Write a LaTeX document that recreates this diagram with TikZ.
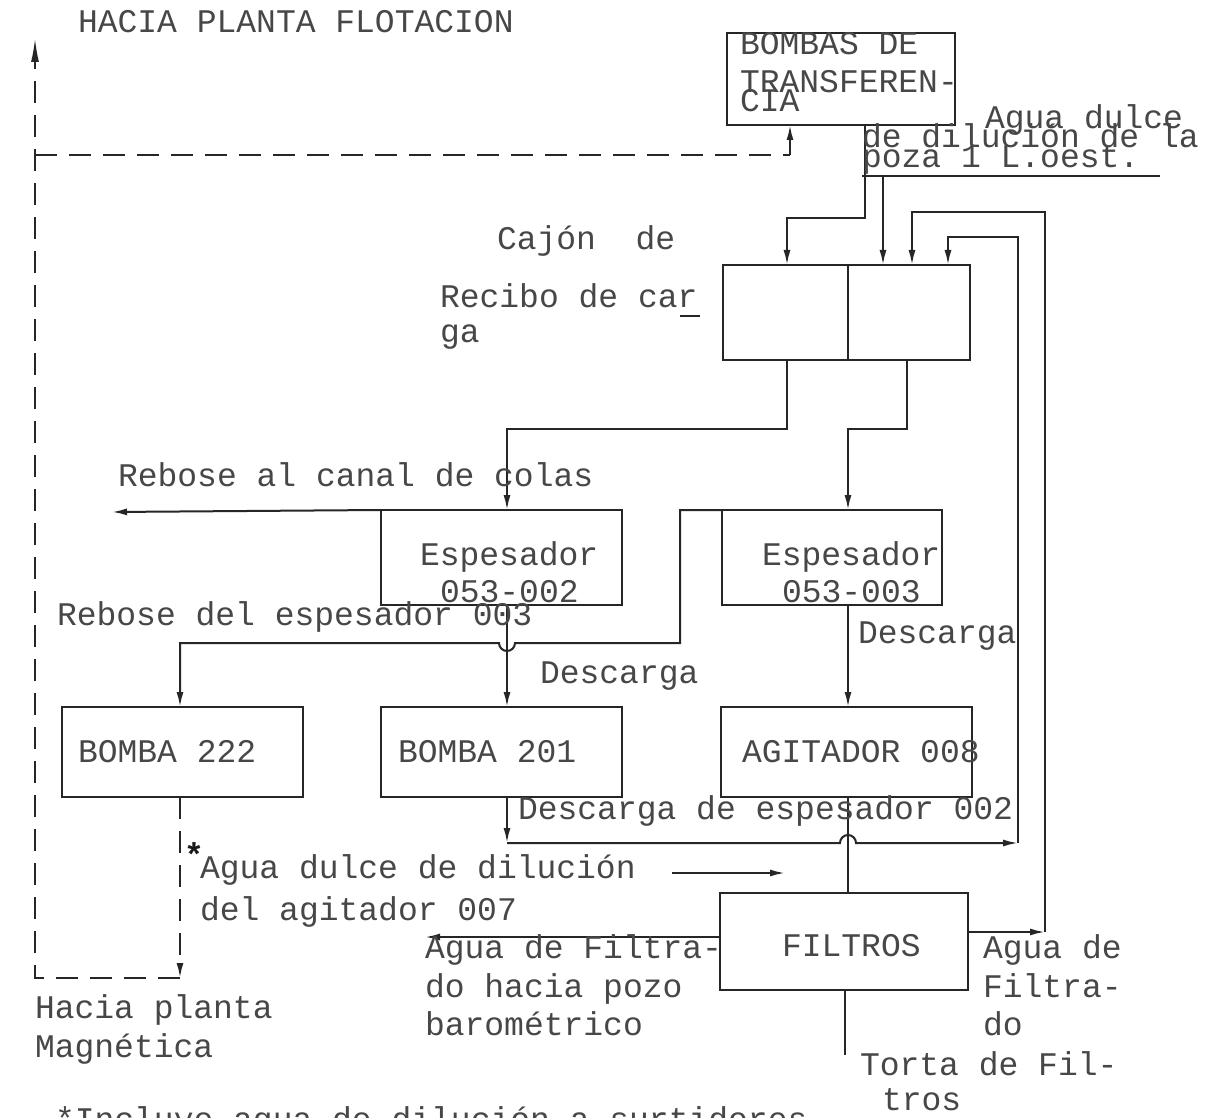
\documentclass[tikz,border=0pt]{standalone}
\usepackage{fontspec}
\setmonofont{Liberation Mono}
\usetikzlibrary{arrows.meta}
\begin{document}
\begin{tikzpicture}[x=1pt,y=-1pt,
  box/.style={draw=black!85, line width=2.2pt, anchor=north west, inner sep=0pt, outer sep=0pt},
  flow/.style={draw=black!85, line width=2pt},
  arr/.style={-{Latex[length=15pt,width=7pt]}},
  dsh/.style={dash pattern=on 22pt off 12pt},
  lbl/.style={anchor=base west, inner sep=0pt, outer sep=0pt, font=\ttfamily\fontsize{33}{39}\selectfont, text=black!72}]
\path[use as bounding box, fill=white] (0,0) rectangle (1211,1118);
% boxes
\node[box, minimum width=228pt, minimum height=92pt] (bt) at (727,33) {};
\node[box, minimum width=247pt, minimum height=95pt] (cajon) at (723,265) {};
\node[box, minimum width=241pt, minimum height=95pt] (e2) at (381,510) {};
\node[box, minimum width=220pt, minimum height=95pt] (e3) at (722,510) {};
\node[box, minimum width=241pt, minimum height=90pt] (b222) at (62,707) {};
\node[box, minimum width=241pt, minimum height=90pt] (b201) at (381,707) {};
\node[box, minimum width=251pt, minimum height=90pt] (ag) at (721,707) {};
\node[box, minimum width=248pt, minimum height=97pt] (fil) at (720,893) {};
\draw[flow] ([xshift=125pt]cajon.north west) -- ([xshift=125pt]cajon.south west);
% free ends
\coordinate (flot) at (35,38);
\coordinate (magn) at (180,978);
\coordinate (colas) at (112,512);
\coordinate (pozo) at (425,937);
\coordinate (torta) at (845,1055);
\coordinate (dulceA) at (672,873);
\coordinate (dulceB) at (785,873);
% dashed returns
\draw[flow,dsh,arr] ([xshift=118pt]b222.south west) -- (magn);
\draw[flow,dsh,-{Latex[length=24pt,width=8pt]}] (magn) -- (35,978) -- (flot);
\draw[flow,dsh] (35,155) -- (790,155);
\draw[flow,arr] (790,155) -- ([xshift=63pt]bt.south west);
% bombas -> cajon
\draw[flow,arr] ([xshift=138pt]bt.south west) -- (865,218) -- (787,218) -- ([xshift=64pt]cajon.north west);
% agua dulce poza
\draw[flow] (862,176) -- (1160,176);
\draw[flow,arr] (883,176) -- ([xshift=160pt]cajon.north west);
% filtrado return
\draw[flow,arr] ([yshift=-39pt]fil.north east) -- (1045,932);
\draw[flow,arr] (1045,932) -- (1045,212) -- (912,212) -- ([xshift=189pt]cajon.north west);
% descarga espesador 002
\draw[flow,arr] ([xshift=126pt]b201.south west) -- (507,843);
\draw[flow,arr] (507,843) -- (840,843) arc (180:360:8) -- (1018,843);
\draw[flow,arr] (1018,843) -- (1018,237) -- (948,237) -- ([xshift=225pt]cajon.north west);
% agitador -> filtros
\draw[flow] ([xshift=127pt]ag.south west) -- ([xshift=128pt]fil.north west);
% cajon -> espesadores
\draw[flow,arr] ([xshift=64pt]cajon.south west) -- (787,429) -- (507,429) -- ([xshift=126pt]e2.north west);
\draw[flow,arr] ([xshift=184pt]cajon.south west) -- (907,429) -- (848,429) -- ([xshift=126pt]e3.north west);
% rebose colas
\draw[flow,arr] (e2.north west) -- (colas);
% rebose 003
\draw[flow,arr] (e3.north west) -- (680,510) -- (680,643) -- (515,643) arc (0:180:8) -- (180,643) -- ([xshift=118pt]b222.north west);
% descargas
\draw[flow,arr] ([xshift=126pt]e2.south west) -- ([xshift=126pt]b201.north west);
\draw[flow,arr] ([xshift=126pt]e3.south west) -- ([xshift=127pt]ag.north west);
% filtros outputs
\draw[flow,arr] ([yshift=-44pt]fil.north west) -- (pozo);
\draw[flow] ([xshift=125pt]fil.south west) -- (torta);
\draw[flow,arr] (dulceA) -- (dulceB);
% underline in car
\draw[flow,line width=1.6pt] (680,316) -- (700,316);
% texts
\node[lbl] (t1) at (78,33) {HACIA PLANTA FLOTACION};
\node[lbl] (t2) at (740,55) {BOMBAS DE};
\node[lbl] (t3) at (740,93) {TRANSFEREN-};
\node[lbl] (t4) at (740,112) {CIA};
\node[lbl] (t5) at (985,129) {Agua dulce};
\node[lbl] (t6) at (862,148) {de dilución de la};
\node[lbl] (t7) at (862,168) {poza 1 L.oest.};
\node[lbl] (t8) at (497,250) {Cajón\ \ de};
\node[lbl] (t9) at (440,308) {Recibo de car};
\node[lbl] (t10) at (440,342) {ga};
\node[lbl] (t11) at (118,486) {Rebose al canal de colas};
\node[lbl] (t12) at (420,565) {Espesador};
\node[lbl] (t13) at (440,602) {053-002};
\node[lbl] (t14) at (762,565) {Espesador};
\node[lbl] (t15) at (782,602) {053-003};
\node[lbl] (t16) at (57,625) {Rebose del espesador 003};
\node[lbl] (t17) at (540,683) {Descarga};
\node[lbl] (t18) at (858,643) {Descarga};
\node[lbl] (t19) at (78,762) {BOMBA 222};
\node[lbl] (t20) at (398,762) {BOMBA 201};
\node[lbl] (t21) at (742,762) {AGITADOR 008};
\node[lbl] (t22) at (518,819) {Descarga de espesador 002};
\node[lbl, font=\ttfamily\bfseries\fontsize{33}{39}\selectfont, text=black!90] (t23) at (184,866) {*};
\node[lbl] (t24) at (200,878) {Agua dulce de dilución};
\node[lbl] (t25) at (200,920) {del agitador 007};
\node[lbl] (t26) at (425,958) {Agua de Filtra-};
\node[lbl] (t27) at (425,997) {do hacia pozo};
\node[lbl] (t28) at (425,1035) {barométrico};
\node[lbl] (t29) at (782,956) {FILTROS};
\node[lbl] (t30) at (983,958) {Agua de};
\node[lbl] (t31) at (983,997) {Filtra-};
\node[lbl] (t32) at (983,1035) {do};
\node[lbl] (t33) at (35,1018) {Hacia planta};
\node[lbl] (t34) at (35,1057) {Magnética};
\node[lbl] (t35) at (860,1075) {Torta de Fil-};
\node[lbl] (t36) at (882,1110) {tros};
\node[lbl] (t37) at (55,1130) {*Incluye agua de dilución a surtidores};
\end{tikzpicture}
\end{document}
